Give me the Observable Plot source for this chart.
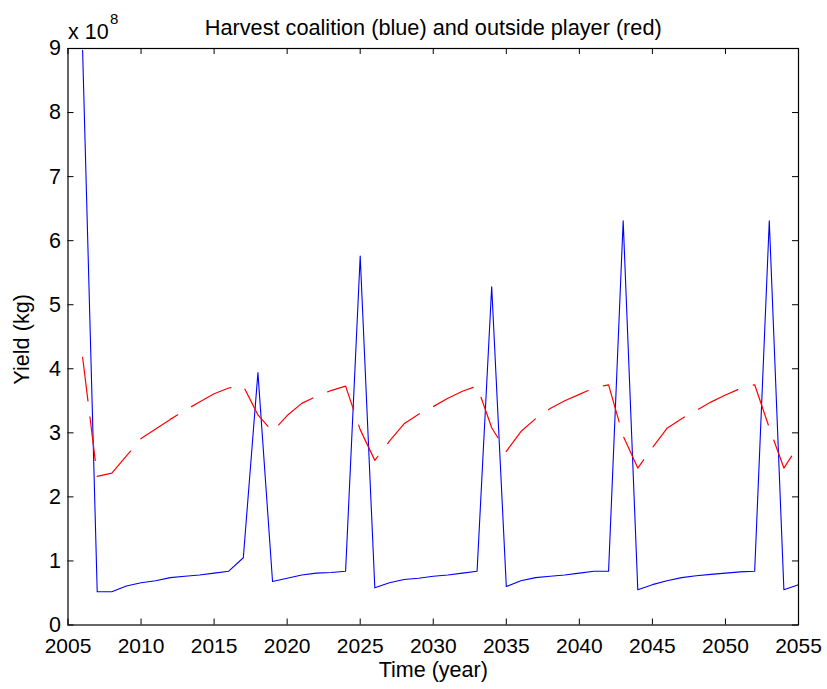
<!DOCTYPE html>
<html><head><meta charset="utf-8">
<script src="https://cdn.jsdelivr.net/npm/d3@7"></script>
<script src="https://cdn.jsdelivr.net/npm/@observablehq/plot@0.6"></script>
<style>
body{margin:0;background:#fff;}
#chart svg{display:block;}
</style></head><body><div id="chart"></div>
<script>
const years = [2006,2007,2008,2009,2010,2011,2012,2013,2014,2015,
  2016,2017,2018,2019,2020,2021,2022,2023,2024,2025,
  2026,2027,2028,2029,2030,2031,2032,2033,2034,2035,
  2036,2037,2038,2039,2040,2041,2042,2043,2044,2045,
  2046,2047,2048,2049,2050,2051,2052,2053,2054,2055];

// Harvest coalition (blue), kg
const coalitionYield = [8.97e8,0.52e8,0.52e8,0.61e8,0.66e8,0.69e8,0.74e8,0.76e8,0.78e8,0.81e8,
  0.84e8,1.05e8,3.94e8,0.68e8,0.73e8,0.78e8,0.81e8,0.82e8,0.84e8,5.76e8,
  0.58e8,0.66e8,0.71e8,0.73e8,0.76e8,0.78e8,0.81e8,0.84e8,5.28e8,0.60e8,
  0.69e8,0.74e8,0.76e8,0.78e8,0.81e8,0.84e8,0.84e8,6.31e8,0.55e8,0.63e8,
  0.69e8,0.74e8,0.77e8,0.79e8,0.81e8,0.83e8,0.84e8,6.31e8,0.55e8,0.63e8];

// Outside player (red), kg
const outsideYield = [4.18e8,2.32e8,2.37e8,2.64e8,2.91e8,3.06e8,3.21e8,3.35e8,3.48e8,3.61e8,
  3.70e8,3.73e8,3.28e8,3.02e8,3.27e8,3.46e8,3.57e8,3.66e8,3.73e8,3.05e8,
  2.57e8,2.87e8,3.14e8,3.29e8,3.41e8,3.54e8,3.65e8,3.73e8,3.08e8,2.71e8,
  3.02e8,3.22e8,3.38e8,3.50e8,3.60e8,3.70e8,3.75e8,2.95e8,2.45e8,2.77e8,
  3.07e8,3.22e8,3.35e8,3.48e8,3.59e8,3.69e8,3.75e8,3.08e8,2.45e8,2.80e8];

const xTicks = [2005,2010,2015,2020,2025,2030,2035,2040,2045,2050,2055];
const yTicks = [0,1e8,2e8,3e8,4e8,5e8,6e8,7e8,8e8,9e8];

const titleText = "Harvest coalition (blue) and outside player (red)";
const xLabel = "Time (year)";
const yLabel = "Yield (kg)";
const expBase = "x 10";
const expPow = "8";

const coalition = years.map((t, i) => ({t, v: coalitionYield[i]}));
const outside = years.map((t, i) => ({t, v: outsideYield[i]}));

const W = 827, H = 689;
const mT = 48, mB = 64.5, mL = 67.5, mR = 29;
const plotH = H - mT - mB, plotW = W - mL - mR;
const TL = 6;
const font = "'Liberation Sans', Arial, Helvetica, sans-serif";

const chart = Plot.plot({
  width: W, height: H,
  marginTop: mT, marginBottom: mB, marginLeft: mL, marginRight: mR,
  style: {fontFamily: font, fontSize: "21px", color: "black", background: "white"},
  x: {domain: [2005, 2055]},
  y: {domain: [0, 9e8]},
  marks: [
    Plot.line(coalition, {x: "t", y: "v", stroke: "#0000ff", strokeWidth: 1.1}),
    Plot.line(outside, {x: "t", y: "v", stroke: "#ff0000", strokeWidth: 1.2, strokeDasharray: "44,16"}),
    Plot.frame({stroke: "black", strokeWidth: 1.2}),
    Plot.tickX(xTicks, {x: d => d, insetTop: plotH - TL, stroke: "black"}),
    Plot.tickX(xTicks, {x: d => d, insetBottom: plotH - TL, stroke: "black"}),
    Plot.tickY(yTicks, {y: d => d, insetRight: plotW - TL, stroke: "black"}),
    Plot.tickY(yTicks, {y: d => d, insetLeft: plotW - TL, stroke: "black"}),
    Plot.axisX({ticks: xTicks, tickSize: 0, tickPadding: 13, tickFormat: d => String(d), label: null, fontSize: 21}),
    Plot.axisY({ticks: yTicks, tickSize: 0, tickPadding: 7, tickFormat: d => String(Math.round(d / 1e8)), label: null, fontSize: 21.5}),
    Plot.text([titleText], {text: d => d, frameAnchor: "top", dy: -29, fontSize: 21.7}),
    Plot.text([expBase], {text: d => d, frameAnchor: "top-left", textAnchor: "start", dy: -25, fontSize: 21.5}),
    Plot.text([expPow], {text: d => d, frameAnchor: "top-left", textAnchor: "start", dx: 42, dy: -35, fontSize: 15}),
    Plot.text([xLabel], {text: d => d, frameAnchor: "bottom", dy: 52, fontSize: 21.5}),
    Plot.text([yLabel], {text: d => d, frameAnchor: "left", rotate: -90, dx: -46, dy: 48, fontSize: 21.7})
  ]
});
document.getElementById("chart").appendChild(chart);
</script></body></html>
